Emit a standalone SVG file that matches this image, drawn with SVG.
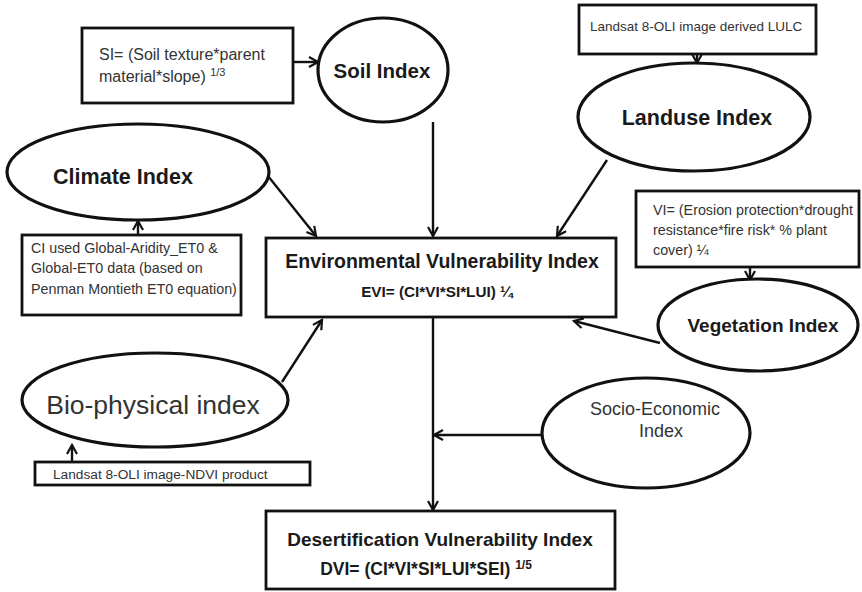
<svg xmlns="http://www.w3.org/2000/svg" width="862" height="592" viewBox="0 0 862 592">
<defs>
<marker id="ah" markerWidth="12" markerHeight="12" refX="10" refY="6" orient="auto" markerUnits="userSpaceOnUse">
<path d="M1,1 L10,6 L1,11" fill="none" stroke="#111" stroke-width="2.2"/>
</marker>
</defs>
<style>
.box{fill:#fff;stroke:#111;stroke-width:2.8}
.ell{fill:#fff;stroke:#111;stroke-width:3.2}
.con{fill:none;stroke:#111;stroke-width:2.4;marker-end:url(#ah)}
.t{font-family:"Liberation Sans",Arial,sans-serif;fill:#333}
.b{font-family:"Liberation Sans",Arial,sans-serif;font-weight:bold;fill:#1a1a1a}
</style>
<rect width="862" height="592" fill="#fff"/>
<g id="connectors">
<line class="con" x1="293" y1="62" x2="318" y2="62"/>
<line class="con" x1="697" y1="54" x2="697" y2="63"/>
<line class="con" x1="138" y1="235" x2="138" y2="221"/>
<line class="con" x1="268" y1="176" x2="316" y2="236"/>
<line class="con" x1="433" y1="122" x2="433" y2="236"/>
<line class="con" x1="607" y1="160" x2="557" y2="236"/>
<line class="con" x1="750" y1="267" x2="750" y2="280"/>
<line class="con" x1="660" y1="343" x2="574" y2="321"/>
<line class="con" x1="282" y1="382" x2="322" y2="320"/>
<line class="con" x1="72" y1="462" x2="72" y2="445"/>
<line class="con" x1="542" y1="435" x2="434" y2="435"/>
<line class="con" x1="433" y1="317" x2="433" y2="510"/>
</g>
<g id="si-box">
<rect class="box" x="82" y="28" width="211" height="75"/>
<text class="t" font-size="16" x="99" y="60">SI= (Soil texture*parent</text>
<text class="t" font-size="16" x="99" y="82">material*slope) <tspan font-size="11" dy="-6">1/3</tspan></text>
</g>
<g id="soil-index">
<ellipse class="ell" cx="383" cy="70" rx="65" ry="52"/>
<text class="b" font-size="20.5" x="382" y="78" text-anchor="middle">Soil Index</text>
</g>
<g id="lulc-box">
<rect class="box" x="579" y="5" width="237" height="49"/>
<text class="t" font-size="13.5" x="590" y="31">Landsat 8-OLI image derived LULC</text>
</g>
<g id="landuse-index">
<ellipse class="ell" cx="694" cy="117" rx="116" ry="54"/>
<text class="b" font-size="21.5" x="697" y="125" text-anchor="middle">Landuse Index</text>
</g>
<g id="climate-index">
<ellipse class="ell" cx="138" cy="172" rx="131" ry="48"/>
<text class="b" font-size="21.5" x="123" y="184" text-anchor="middle">Climate Index</text>
</g>
<g id="ci-box">
<rect class="box" x="22" y="235" width="219" height="80"/>
<text class="t" font-size="14.3" x="31" y="253">CI used Global-Aridity_ET0 &amp;</text>
<text class="t" font-size="14.3" x="31" y="273">Global-ET0 data (based on</text>
<text class="t" font-size="14.3" x="31" y="294">Penman Montieth ET0 equation)</text>
</g>
<g id="evi-box">
<rect class="box" x="266" y="238" width="350" height="79"/>
<text class="b" font-size="19.5" x="442" y="268" text-anchor="middle">Environmental Vulnerability Index</text>
<text class="b" font-size="15.3" x="437" y="297" text-anchor="middle">EVI= (CI*VI*SI*LUI) ¼</text>
</g>
<g id="vi-box">
<rect class="box" x="636" y="191" width="223" height="76"/>
<text class="t" font-size="14.3" x="653" y="215">VI= (Erosion protection*drought</text>
<text class="t" font-size="14.3" x="653" y="235">resistance*fire risk* % plant</text>
<text class="t" font-size="14.3" x="653" y="255">cover) ¼</text>
</g>
<g id="vegetation-index">
<ellipse class="ell" cx="758" cy="325" rx="100" ry="46"/>
<text class="b" font-size="19" x="763" y="332" text-anchor="middle">Vegetation Index</text>
</g>
<g id="bio-physical-index">
<ellipse class="ell" cx="155" cy="400" rx="133" ry="47"/>
<text class="t" font-size="26.5" x="153" y="414" text-anchor="middle" fill="#1a1a1a">Bio-physical index</text>
</g>
<g id="ndvi-box">
<rect class="box" x="35" y="462" width="275" height="23"/>
<text class="t" font-size="13.7" x="53" y="479">Landsat 8-OLI image-NDVI product</text>
</g>
<g id="socio-economic-index">
<ellipse class="ell" cx="646" cy="433" rx="104" ry="55"/>
<text class="t" font-size="18" x="655" y="415" text-anchor="middle">Socio-Economic</text>
<text class="t" font-size="18" x="661" y="437" text-anchor="middle">Index</text>
</g>
<g id="dvi-box">
<rect class="box" x="266" y="511" width="349" height="78"/>
<text class="b" font-size="19" x="440" y="546" text-anchor="middle">Desertification Vulnerability Index</text>
<text class="b" font-size="17.5" x="426" y="575" text-anchor="middle">DVI= (CI*VI*SI*LUI*SEI) <tspan font-size="12" dy="-6">1/5</tspan></text>
</g>
</svg>
